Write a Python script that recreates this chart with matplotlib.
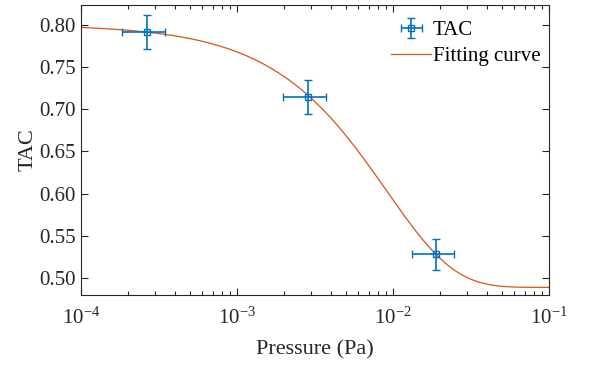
import numpy as np
import matplotlib.pyplot as plt
import matplotlib.ticker as ticker

plt.rcParams["font.family"] = ["Liberation Serif", "DejaVu Serif"]
plt.rcParams["mathtext.fontset"] = "stix"

# measured points
pressure = [2.64e-4, 2.86e-3, 1.89e-2]
pressure_err = [0.80e-4, 0.88e-3, 0.57e-2]
tac = [0.791, 0.714, 0.528]
tac_err = [0.020, 0.020, 0.018]

# fitting curve: TAC = b + (a - b) * exp(-p / p0)
fit_a = 0.800
fit_b = 0.489
fit_p0 = 9.1e-3

BLUE = "#0072BD"
ORANGE = "#D95319"
AXC = "#262626"

fig = plt.figure(figsize=(5.89, 3.66), dpi=100)
ax = fig.add_axes([0.1375, 0.194, 0.7945, 0.792])

p = np.logspace(-4, -1, 400)
fit = fit_b + (fit_a - fit_b) * np.exp(-p / fit_p0)

h_pts = ax.errorbar(pressure, tac, xerr=pressure_err, yerr=tac_err, fmt="s",
                    color=BLUE, mfc="none", ms=5, mew=1.0, elinewidth=1.2,
                    capsize=2.7, capthick=1.2, label="TAC", zorder=3)
h_fit, = ax.plot(p, fit, color=ORANGE, lw=0.9, label="Fitting curve", zorder=2)

ax.set_xscale("log")
ax.set_xlim(1e-4, 1e-1)
ax.set_ylim(0.48, 0.823)
ax.yaxis.set_major_locator(ticker.MultipleLocator(0.05))
ax.yaxis.set_major_formatter(ticker.FormatStrFormatter("%.2f"))
ax.xaxis.set_minor_locator(ticker.LogLocator(base=10, subs=np.arange(2, 10)))
ax.xaxis.set_minor_formatter(ticker.NullFormatter())

ax.tick_params(which="both", direction="in", top=True, right=True,
               colors=AXC, labelcolor=AXC, labelsize=15, width=0.8)
ax.tick_params(which="major", length=5)
ax.tick_params(which="minor", length=3)
ax.tick_params(axis="x", pad=9)
ax.tick_params(axis="y", pad=4)
for s in ax.spines.values():
    s.set_color(AXC)
    s.set_linewidth(0.8)

ax.set_xlabel("Pressure (Pa)", fontsize=16, color=AXC, labelpad=8)
ax.set_ylabel("TAC", fontsize=16, color=AXC, labelpad=1)

ax.legend([h_pts, h_fit], ["TAC", "Fitting curve"], loc="upper right",
          bbox_to_anchor=(1.0, 0.975),
          frameon=False, fontsize=15, handlelength=1.9, handletextpad=0.1,
          borderpad=0.3, borderaxespad=0.1, labelspacing=0.3)

fig.savefig("out.png", dpi=100)
